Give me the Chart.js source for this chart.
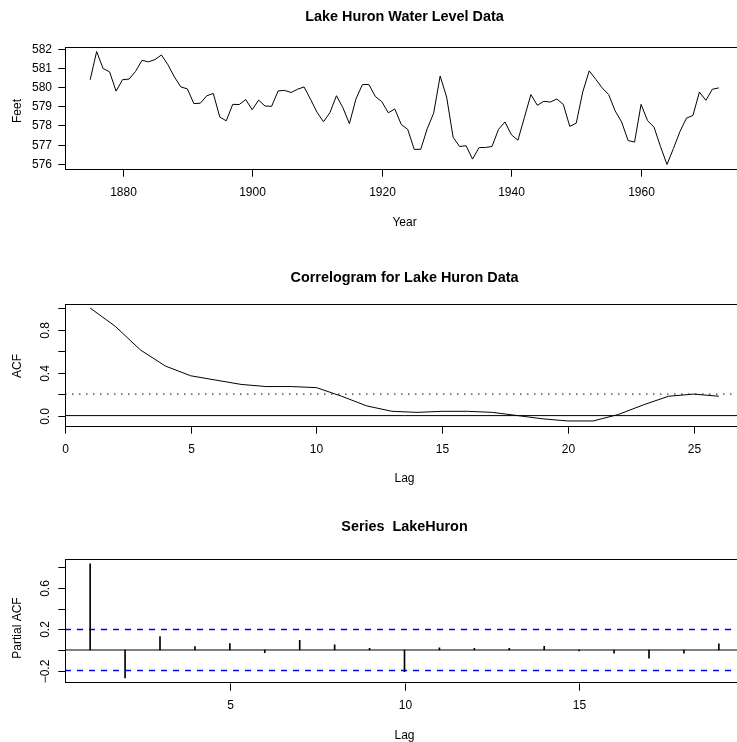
<!DOCTYPE html>
<html>
<head>
<meta charset="utf-8">
<script src="https://cdn.jsdelivr.net/npm/chart.js@4.4.1/dist/chart.umd.min.js"></script>
<style>
html, body { margin: 0; padding: 0; background: #fff; overflow: hidden; width: 737px; height: 742px; }
canvas { position: absolute; left: 0; top: 0; }
</style>
</head>
<body>
<canvas id="c1" width="760" height="742"></canvas>
<canvas id="c2" width="760" height="742"></canvas>
<canvas id="c3" width="760" height="742"></canvas>
<script>
// ---------- data ----------
const years = [1875,1876,1877,1878,1879,1880,1881,1882,1883,1884,1885,1886,1887,1888,1889,1890,
  1891,1892,1893,1894,1895,1896,1897,1898,1899,1900,1901,1902,1903,1904,1905,1906,1907,1908,1909,1910,
  1911,1912,1913,1914,1915,1916,1917,1918,1919,1920,1921,1922,1923,1924,1925,1926,1927,1928,1929,1930,
  1931,1932,1933,1934,1935,1936,1937,1938,1939,1940,1941,1942,1943,1944,1945,1946,1947,1948,1949,1950,
  1951,1952,1953,1954,1955,1956,1957,1958,1959,1960,1961,1962,1963,1964,1965,1966,1967,1968,1969,1970,
  1971,1972];
const levels = [580.38,581.86,580.97,580.80,579.79,580.39,580.42,580.82,581.40,581.32,581.44,581.68,
  581.17,580.53,580.01,579.91,579.14,579.16,579.55,579.67,578.44,578.24,579.10,579.09,579.35,578.82,
  579.32,579.01,579.00,579.80,579.83,579.72,579.89,580.01,579.37,578.69,578.19,578.67,579.55,578.92,
  578.09,579.37,580.13,580.14,579.51,579.24,578.66,578.86,578.05,577.79,576.75,576.75,577.82,578.64,
  580.58,579.48,577.38,576.90,576.94,576.24,576.84,576.85,576.90,577.79,578.18,577.51,577.23,578.42,
  579.61,579.05,579.26,579.22,579.38,579.10,577.95,578.12,579.75,580.85,580.41,579.96,579.61,578.76,
  578.18,577.21,577.13,579.10,578.25,577.91,576.89,575.96,576.80,577.68,578.38,578.52,579.74,579.31,
  579.89,579.96];
const yearTicks = [1880, 1900, 1920, 1940, 1960];
const feetTicks = [576, 577, 578, 579, 580, 581, 582];

const acfLags = [1,2,3,4,5,6,7,8,9,10,11,12,13,14,15,16,17,18,19,20,21,22,23,24,25,26];
const acfValues = [1.00,0.83,0.61,0.46,0.37,0.33,0.29,0.27,0.27,0.26,0.18,0.09,0.04,0.03,0.04,
  0.04,0.03,0.00,-0.03,-0.05,-0.05,0.01,0.10,0.18,0.20,0.18];
const acfLagTicks = [0, 5, 10, 15, 20, 25];
const acfTicks = [0.0, 0.2, 0.4, 0.6, 0.8, 1.0];
const acfTickLabels = ['0.0', '', '0.4', '', '0.8', ''];
const acfRefLevel = [0.2];

const pacfLags = [1,2,3,4,5,6,7,8,9,10,11,12,13,14,15,16,17,18,19];
const pacfValues = [0.832,-0.270,0.130,0.032,0.061,-0.026,0.094,0.049,0.016,-0.209,0.020,0.016,
  0.016,0.036,-0.010,-0.030,-0.080,-0.030,0.060];
const pacfBounds = [0.198, -0.198];
const pacfLagTicks = [5, 10, 15];
const pacfTicks = [-0.2, 0.0, 0.2, 0.4, 0.6, 0.8];
const pacfTickLabels = ['\u22120.2', '', '0.2', '', '0.6', ''];

// ---------- helpers ----------
const FONT = "'Liberation Sans', Arial, Helvetica, sans-serif";
const W = 760, H = 742;

function framePlugin(cfg) {
  return {
    id: 'frame',
    afterDraw(chart) {
      const ctx = chart.ctx, a = chart.chartArea;
      const xs = chart.scales.x, ys = chart.scales.y;
      ctx.save();
      ctx.strokeStyle = '#000';
      ctx.lineWidth = 1;
      ctx.setLineDash([]);
      ctx.strokeRect(Math.round(a.left) + 0.5, Math.round(a.top) + 0.5,
        Math.round(a.right - a.left), Math.round(a.bottom - a.top));
      ctx.fillStyle = '#000';
      // x ticks
      ctx.font = '12px ' + FONT;
      ctx.textAlign = 'center';
      ctx.textBaseline = 'alphabetic';
      cfg.xTicks.forEach(v => {
        const px = Math.round(xs.getPixelForValue(v)) + 0.5;
        ctx.beginPath();
        ctx.moveTo(px, Math.round(a.bottom) + 0.5);
        ctx.lineTo(px, Math.round(a.bottom) + 7.7);
        ctx.stroke();
        ctx.fillText(String(v), px, a.bottom + cfg.xLabelOff);
      });
      // y ticks
      cfg.yTicks.forEach((v, i) => {
        const py = Math.round(ys.getPixelForValue(v)) + 0.5;
        ctx.beginPath();
        ctx.moveTo(Math.round(a.left) + 0.5, py);
        ctx.lineTo(Math.round(a.left) - 6.7, py);
        ctx.stroke();
        const lab = cfg.yLabels[i];
        if (!lab) return;
        if (cfg.rotateY) {
          ctx.save();
          ctx.translate(49, py);
          ctx.rotate(-Math.PI / 2);
          ctx.textAlign = 'center';
          ctx.textBaseline = 'alphabetic';
          ctx.fillText(lab, 0, 0);
          ctx.restore();
        } else {
          ctx.textAlign = 'right';
          ctx.textBaseline = 'middle';
          ctx.fillText(lab, 52, py);
        }
      });
      // axis titles
      const cx = (a.left + a.right) / 2;
      ctx.textAlign = 'center';
      ctx.textBaseline = 'alphabetic';
      ctx.fillText(cfg.xTitle, cx, a.bottom + cfg.xTitleOff);
      ctx.save();
      ctx.translate(20.5, cfg.yTitleY);
      ctx.rotate(-Math.PI / 2);
      ctx.fillText(cfg.yTitle, 0, 0);
      ctx.restore();
      // main title
      ctx.font = 'bold 14.4px ' + FONT;
      ctx.fillText(cfg.title, cx, cfg.titleY);
      ctx.restore();
    }
  };
}

function baseOptions(pad, xr, yr) {
  return {
    responsive: false,
    animation: false,
    devicePixelRatio: 1,
    events: [],
    layout: { padding: pad },
    plugins: { legend: { display: false }, tooltip: { enabled: false }, title: { display: false } },
    scales: {
      x: { type: 'linear', display: false, offset: false, min: xr[0], max: xr[1] },
      y: { type: 'linear', display: false, min: yr[0], max: yr[1] }
    }
  };
}

// ---------- Panel 1 ----------
new Chart(document.getElementById('c1'), {
  type: 'line',
  data: {
    datasets: [{
      data: years.map((y, i) => ({ x: y, y: levels[i] })),
      borderColor: '#000', borderWidth: 1, pointRadius: 0, tension: 0, fill: false
    }]
  },
  options: baseOptions({ left: 65, top: 47, right: W - 744, bottom: H - 169 },
    [1871.12, 1975.88], [575.724, 582.096]),
  plugins: [framePlugin({
    xTicks: yearTicks, yTicks: feetTicks, yLabels: feetTicks.map(String), rotateY: false,
    xLabelOff: 27.4, xTitle: 'Year', xTitleOff: 56.7, yTitle: 'Feet', yTitleY: 111,
    title: 'Lake Huron Water Level Data', titleY: 20.7
  })]
});

// ---------- Panel 2 ----------
new Chart(document.getElementById('c2'), {
  type: 'line',
  data: {
    datasets: [
      {
        data: acfLags.map((l, i) => ({ x: l, y: acfValues[i] })),
        borderColor: '#000', borderWidth: 1, pointRadius: 0, tension: 0, fill: false
      },
      {
        data: [{ x: 0, y: acfRefLevel[0] }, { x: 27, y: acfRefLevel[0] }],
        borderColor: '#000', borderWidth: 1, borderDash: [1.5, 5.5], pointRadius: 0, fill: false
      },
      {
        data: [{ x: 0, y: 0 }, { x: 27, y: 0 }],
        borderColor: '#000', borderWidth: 1, pointRadius: 0, fill: false
      }
    ]
  },
  options: baseOptions({ left: 65, top: 303.5, right: W - 744, bottom: H - 425.5 },
    [0, 27], [-0.092, 1.042]),
  plugins: [framePlugin({
    xTicks: acfLagTicks, yTicks: acfTicks, yLabels: acfTickLabels, rotateY: true,
    xLabelOff: 27.4, xTitle: 'Lag', xTitleOff: 56.7, yTitle: 'ACF', yTitleY: 366,
    title: 'Correlogram for Lake Huron Data', titleY: 281.7
  })]
});

// ---------- Panel 3 ----------
const p3opts = baseOptions({ left: 65, top: 559.3, right: W - 744, bottom: H - 682.5 },
    [0.28, 19.72], [-0.314, 0.876]);
new Chart(document.getElementById('c3'), {
  type: 'line',
  data: {
    datasets: [
      {
        data: [{ x: 0.28, y: pacfBounds[0] }, { x: 19.72, y: pacfBounds[0] }],
        borderColor: '#0000ff', backgroundColor: '#0000ff', borderWidth: 1.5, borderDash: [6, 6],
        pointRadius: 0, fill: false, order: 3
      },
      {
        data: [{ x: 0.28, y: pacfBounds[1] }, { x: 19.72, y: pacfBounds[1] }],
        borderColor: '#0000ff', backgroundColor: '#0000ff', borderWidth: 1.5, borderDash: [6, 6],
        pointRadius: 0, fill: false, order: 2
      },
      {
        data: [{ x: 0.28, y: 0 }, { x: 19.72, y: 0 }],
        borderColor: '#000', borderWidth: 1, pointRadius: 0, fill: false, order: 1
      },
      {
        type: 'bar',
        data: pacfLags.map((l, i) => ({ x: l, y: pacfValues[i] })),
        backgroundColor: '#000', borderWidth: 0, barThickness: 1, order: 0
      }
    ]
  },
  options: p3opts,
  plugins: [framePlugin({
    xTicks: pacfLagTicks, yTicks: pacfTicks, yLabels: pacfTickLabels, rotateY: true,
    xLabelOff: 26, xTitle: 'Lag', xTitleOff: 56, yTitle: 'Partial ACF', yTitleY: 628,
    title: 'Series  LakeHuron', titleY: 531
  })]
});
</script>
</body>
</html>
